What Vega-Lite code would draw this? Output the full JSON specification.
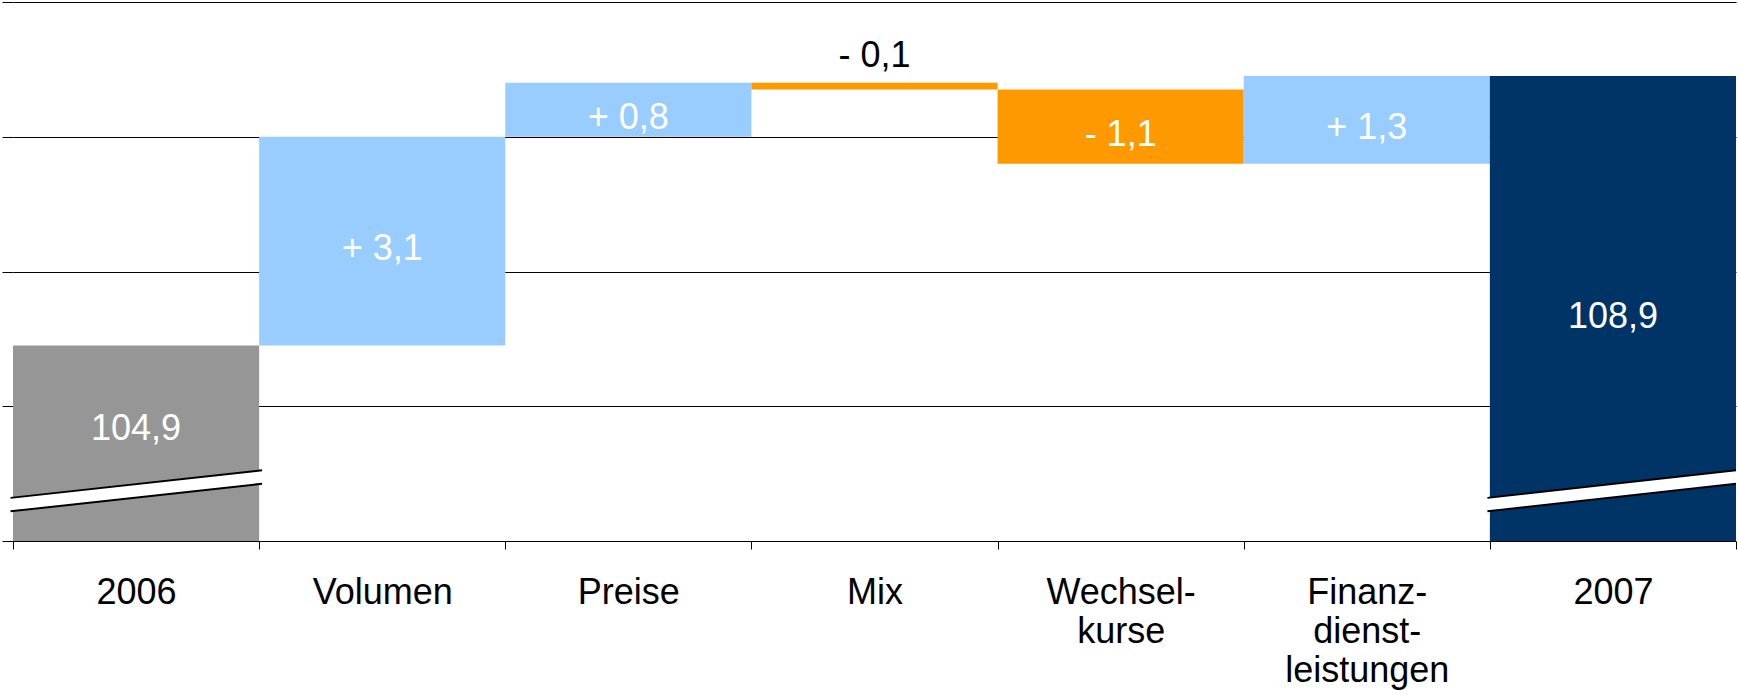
{
  "$schema": "https://vega.github.io/schema/vega-lite/v6.json",
  "width": 1723,
  "height": 539,
  "autosize": {"type": "none"},
  "padding": {"left": 13, "top": 2, "right": 2, "bottom": 159},
  "background": "white",
  "config": {"view": {"stroke": null}, "font": "Liberation Sans"},
  "datasets": {
    "steps": [
      {"cat": "2006", "start": 102, "end": 104.9, "kind": "base", "label": "104,9"},
      {"cat": "Volumen", "start": 104.9, "end": 108.0, "kind": "up", "label": "+ 3,1"},
      {"cat": "Preise", "start": 108.0, "end": 108.8, "kind": "up", "label": "+ 0,8"},
      {"cat": "Mix", "start": 108.8, "end": 108.7, "kind": "down", "label": "- 0,1"},
      {"cat": "Wechsel-|kurse", "start": 108.7, "end": 107.6, "kind": "down", "label": "- 1,1"},
      {"cat": "Finanz-|dienst-|leistungen", "start": 107.6, "end": 108.9, "kind": "up", "label": "+ 1,3"},
      {"cat": "2007", "start": 102, "end": 108.9, "kind": "total", "label": "108,9"}
    ],
    "breaks": [
      {"g": "a", "x": -0.01, "top": 102.64, "bot": 102.44},
      {"g": "a", "x": 1.012, "top": 103.05, "bot": 102.85},
      {"g": "b", "x": 5.99, "top": 102.64, "bot": 102.44},
      {"g": "b", "x": 7.0, "top": 103.05, "bot": 102.85}
    ]
  },
  "encoding": {
    "y": {
      "type": "quantitative",
      "scale": {"domain": [102, 110], "nice": false, "zero": false},
      "axis": {
        "values": [102, 104, 106, 108, 110],
        "title": null,
        "labels": false,
        "grid": true,
        "gridColor": "black",
        "gridOpacity": 1,
        "gridWidth": 1,
        "ticks": true,
        "tickColor": "black",
        "tickSize": 11,
        "domain": false
      }
    }
  },
  "layer": [
    {
      "data": {"name": "steps"},
      "encoding": {
        "x": {
          "field": "cat",
          "type": "nominal",
          "sort": null,
          "scale": {"paddingInner": 0, "paddingOuter": 0},
          "axis": {
            "title": null,
            "labelExpr": "split(datum.label, '|')",
            "labelAngle": 0,
            "labelFont": "Liberation Sans",
            "labelFontSize": 36,
            "labelColor": "black",
            "labelLineHeight": 39,
            "labelPadding": 26,
            "labelBaseline": "top",
            "tickBand": "extent",
            "ticks": true,
            "tickSize": 8,
            "tickColor": "black",
            "domain": false,
            "grid": false
          }
        }
      },
      "layer": [
        {
          "mark": {"type": "bar"},
          "encoding": {
            "y": {"field": "start", "type": "quantitative"},
            "y2": {"field": "end"},
            "color": {
              "field": "kind",
              "type": "nominal",
              "scale": {"domain": ["base", "up", "down", "total"], "range": ["#969696", "#99CCFF", "#FF9900", "#003366"]},
              "legend": null
            }
          }
        },
        {
          "transform": [
            {"filter": "datum.cat !== 'Mix'"},
            {"calculate": "(datum.start + datum.end) / 2 + (datum.cat === '2006' ? 0.33 : 0)", "as": "mid"}
          ],
          "mark": {"type": "text", "fontSize": 36, "color": "white", "baseline": "middle", "align": "center", "dy": 8},
          "encoding": {
            "y": {"field": "mid", "type": "quantitative"},
            "text": {"field": "label"}
          }
        },
        {
          "transform": [{"filter": "datum.cat === 'Mix'"}],
          "mark": {"type": "text", "fontSize": 36, "color": "black", "baseline": "alphabetic", "align": "center", "dy": -16},
          "encoding": {
            "y": {"field": "start", "type": "quantitative"},
            "text": {"field": "label"}
          }
        }
      ]
    },
    {
      "data": {"name": "breaks"},
      "encoding": {
        "x": {"field": "x", "type": "quantitative", "scale": {"domain": [0, 7], "nice": false, "zero": false}, "axis": null}
      },
      "layer": [
        {
          "data": {"values": [{"edge": "left"}]},
          "mark": {"type": "rule", "color": "black", "strokeWidth": 1.5},
          "encoding": {
            "x": {"datum": 0, "type": "quantitative"},
            "y": {"datum": 102},
            "y2": {"datum": 110}
          }
        },
        {
          "data": {"values": [{"edge": "bottom"}]},
          "mark": {"type": "rule", "color": "black", "strokeWidth": 1.5},
          "encoding": {
            "x": {"datum": 0, "type": "quantitative"},
            "x2": {"datum": 7},
            "y": {"datum": 102}
          }
        },
        {
          "mark": {"type": "area", "color": "white", "opacity": 1, "interpolate": "linear"},
          "encoding": {
            "y": {"field": "top", "type": "quantitative"},
            "y2": {"field": "bot"},
            "detail": {"field": "g"}
          }
        },
        {
          "mark": {"type": "line", "color": "black", "strokeWidth": 2},
          "encoding": {
            "y": {"field": "top", "type": "quantitative"},
            "detail": {"field": "g"}
          }
        },
        {
          "mark": {"type": "line", "color": "black", "strokeWidth": 2},
          "encoding": {
            "y": {"field": "bot", "type": "quantitative"},
            "detail": {"field": "g"}
          }
        }
      ]
    }
  ],
  "resolve": {"scale": {"x": "independent"}, "axis": {"x": "independent"}}
}
